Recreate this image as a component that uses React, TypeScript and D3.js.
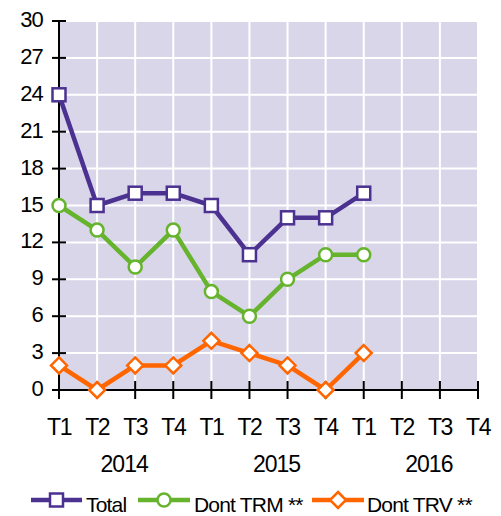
import React from "react";
import * as d3 from "d3";

const quarters = ["T1", "T2", "T3", "T4", "T1", "T2", "T3", "T4", "T1", "T2", "T3", "T4"];
const years = ["2014", "2015", "2016"];
const yTicks = [0, 3, 6, 9, 12, 15, 18, 21, 24, 27, 30];
const totalValues = [24, 15, 16, 16, 15, 11, 14, 14, 16];
const trmValues = [15, 13, 10, 13, 8, 6, 9, 11, 11];
const trvValues = [2, 0, 2, 2, 4, 3, 2, 0, 3];
const seriesNames = ["Total", "Dont TRM **", "Dont TRV **"];

const W = 501, H = 516;
const left = 59, right = 478, top = 21, bottom = 390;
const FONT = "Liberation Sans, Arial, sans-serif";

const colors = ["#4b3291", "#66b32e", "#ff6600"];

function Marker({ kind, x, y, color }: { kind: number; x: number; y: number; color: string }) {
  if (kind === 0) return <rect x={x - 6.5} y={y - 6.5} width={13} height={13} fill="#fff" stroke={color} strokeWidth={2.5} />;
  if (kind === 1) return <circle cx={x} cy={y} r={6.5} fill="#fff" stroke={color} strokeWidth={2.5} />;
  const d = 8;
  return <path d={`M${x},${y - d}L${x + d},${y}L${x},${y + d}L${x - d},${y}Z`} fill="#fff" stroke={color} strokeWidth={2.5} />;
}

export default function App() {
  const x = d3.scaleLinear().domain([0, quarters.length - 1]).range([left, right]);
  const y = d3.scaleLinear().domain([0, 30]).range([bottom, top]);
  const line = d3.line<number>().x((_, i) => x(i)).y((v) => y(v));
  const series = [totalValues, trmValues, trvValues];
  const legend = [
    { x1: 31, x2: 82, tx: 86 },
    { x1: 138, x2: 190, tx: 194 },
    { x1: 312, x2: 364, tx: 367 },
  ];
  return (
    <svg width={W} height={H} style={{ position: "absolute", left: 0, top: 0 }} fontFamily={FONT}>
      <rect x={left} y={top} width={right - left} height={bottom - top} fill="#d9d6ea" />
      {quarters.map((_, i) => (
        <line key={"gv" + i} x1={x(i)} x2={x(i)} y1={top} y2={bottom} stroke="#fff" strokeWidth={2} />
      ))}
      {yTicks.map((t) => (
        <line key={"gh" + t} x1={left} x2={right} y1={y(t)} y2={y(t)} stroke="#fff" strokeWidth={2} />
      ))}
      <line x1={left} x2={left} y1={top} y2={bottom} stroke="#000" strokeWidth={2} />
      <line x1={left} x2={right} y1={bottom} y2={bottom} stroke="#000" strokeWidth={2} />
      {yTicks.map((t) => (
        <g key={"yt" + t}>
          <line x1={left - 7} x2={left + 7} y1={y(t)} y2={y(t)} stroke="#000" strokeWidth={2} />
          <text x={43} y={y(t) + 6} textAnchor="end" fontSize={22} letterSpacing={-0.8} fill="#000">{t}</text>
        </g>
      ))}
      {quarters.map((q, i) => (
        <g key={"xt" + i}>
          <line x1={x(i)} x2={x(i)} y1={bottom - 9} y2={bottom + 9} stroke="#000" strokeWidth={2} />
          <text x={x(i)} y={435} textAnchor="middle" fontSize={23} letterSpacing={-1.5} fill="#000">{q}</text>
        </g>
      ))}
      {years.map((yr, k) => (
        <text key={yr} x={(x(k * 4) + x(k * 4 + 3)) / 2 + 8} y={472} textAnchor="middle" fontSize={23} letterSpacing={-1} fill="#000">{yr}</text>
      ))}
      {series.map((vals, s) => (
        <g key={"s" + s}>
          <path d={line(vals) || ""} fill="none" stroke={colors[s]} strokeWidth={4.5} strokeLinejoin="round" />
          {vals.map((v, i) => (
            <Marker key={i} kind={s} x={x(i)} y={y(v)} color={colors[s]} />
          ))}
        </g>
      ))}
      {legend.map((l, s) => (
        <g key={"l" + s}>
          <line x1={l.x1} x2={l.x2} y1={500} y2={500} stroke={colors[s]} strokeWidth={4.5} />
          <Marker kind={s} x={(l.x1 + l.x2) / 2} y={500} color={colors[s]} />
          <text x={l.tx} y={512} fontSize={21} fill="#000" letterSpacing={-0.8}>{seriesNames[s]}</text>
        </g>
      ))}
    </svg>
  );
}
